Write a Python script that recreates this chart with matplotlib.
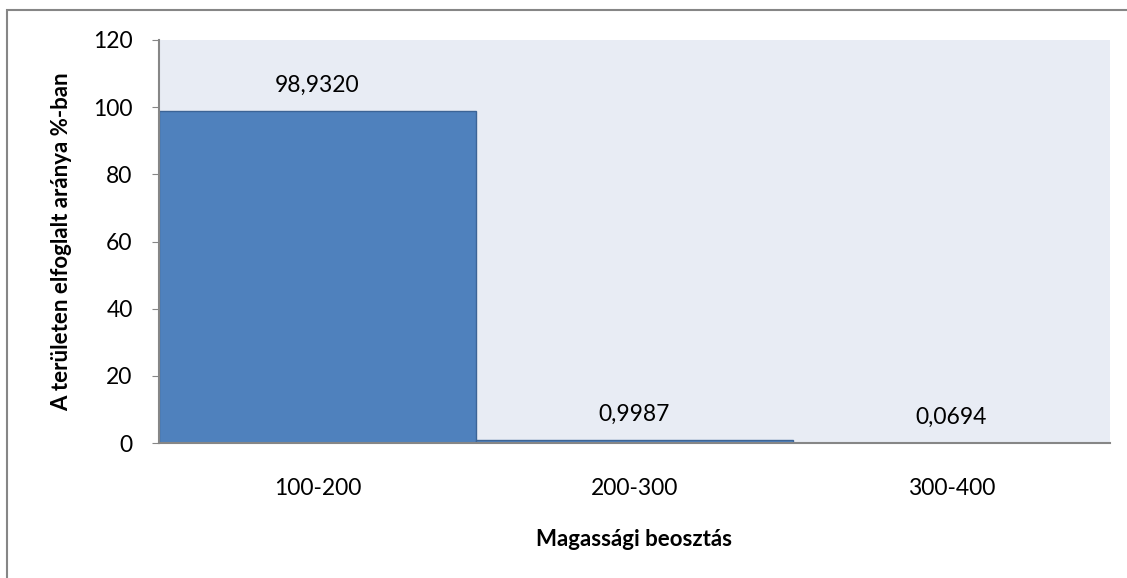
import matplotlib.pyplot as plt
from matplotlib.patches import Rectangle

plt.rcParams['font.family'] = ['Lato', 'DejaVu Sans']

# chart data
categories = ['100-200', '200-300', '300-400']
values = [98.9320, 0.9987, 0.0694]
value_labels = ['98,9320', '0,9987', '0,0694']
y_ticks = [0, 20, 40, 60, 80, 100, 120]

fig = plt.figure(figsize=(11.27, 5.78), dpi=100)
ax = fig.add_axes([159 / 1127, 135 / 578, 951 / 1127, 403 / 578])
ax.set_facecolor('#E8ECF4')

x = range(len(categories))
ax.bar(x, values, width=1.0, color='#4F81BD', edgecolor='#3C6496', linewidth=1.0, zorder=2)

for xi, v, lab in zip(x, values, value_labels):
    ax.annotate(lab, (xi, v), xytext=(0, 11), textcoords='offset points',
                ha='center', va='bottom', fontsize=16.5, color='black')

ax.set_xlim(-0.5, len(categories) - 0.5)
ax.set_ylim(0, 120)
ax.set_yticks(y_ticks)
ax.set_xticks(list(x))
ax.set_xticklabels(categories)
ax.tick_params(axis='y', labelsize=16.5, length=5, color='#868686', pad=14)
ax.tick_params(axis='x', labelsize=16.5, length=0, pad=25)

for side in ['top', 'right']:
    ax.spines[side].set_visible(False)
for side in ['left', 'bottom']:
    ax.spines[side].set_color('#868686')
    ax.spines[side].set_linewidth(1.5)
ax.spines['left'].set_zorder(3)
ax.spines['bottom'].set_zorder(3)

ax.set_xlabel('Magassági beosztás', fontsize=16, fontweight='bold', labelpad=22)
ax.set_ylabel('A területen elfoglalt aránya %-ban', fontsize=16, fontweight='bold', labelpad=15)

# outer chart frame (only left and top visible in crop)
fig.patches.append(Rectangle((7 / 1127, -0.2), 1.2, 1.2 - 10 / 578,
                             transform=fig.transFigure, fill=False,
                             edgecolor='#868686', linewidth=1.5))

fig.savefig('out.png', dpi=100)
